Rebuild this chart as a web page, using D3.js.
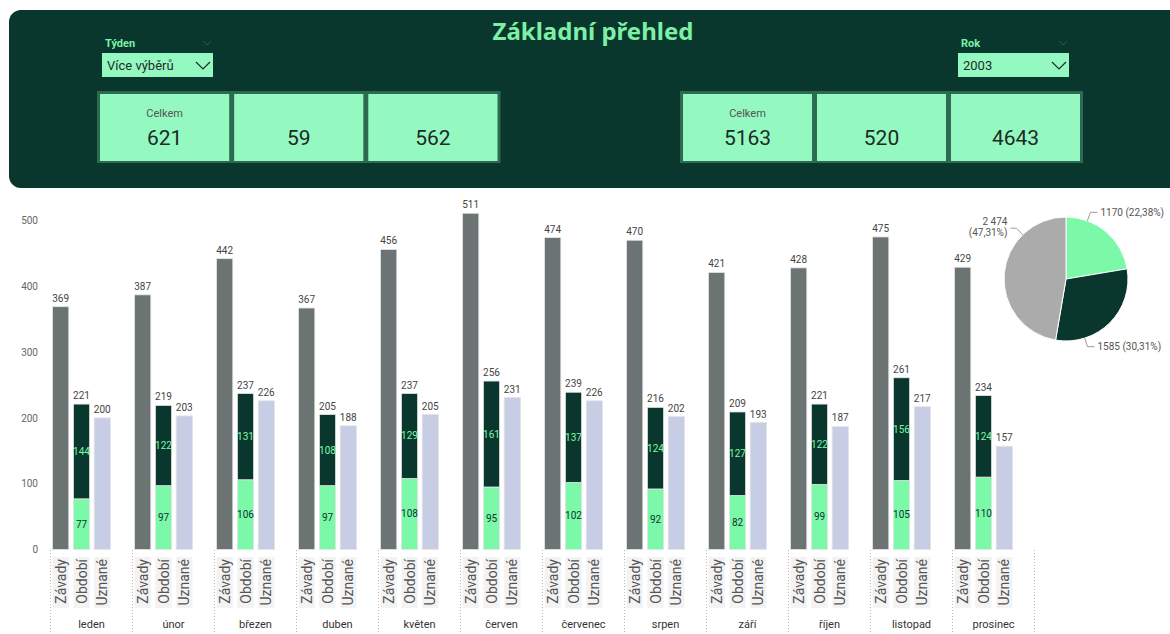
<!DOCTYPE html>
<html>
<head>
<meta charset="utf-8">
<script src="https://cdn.jsdelivr.net/npm/d3@7"></script>
<style>
  body { margin: 0; background: #fff; }
  text { font-family: Roboto, "Noto Sans", sans-serif; }
</style>
</head>
<body>
<div id="chart"></div>
<script>
// data
const months = ["leden", "únor", "březen", "duben", "květen", "červen", "červenec", "srpen", "září", "říjen", "listopad", "prosinec"];
const subCats = ["Závady", "Období", "Uznané"];
const zavady = [369, 387, 442, 367, 456, 511, 474, 470, 421, 428, 475, 429];
const obdobiLow = [77, 97, 106, 97, 108, 95, 102, 92, 82, 99, 105, 110];
const obdobiHigh = [144, 122, 131, 108, 129, 161, 137, 124, 127, 122, 156, 124];
const uznane = [200, 203, 226, 188, 205, 231, 226, 202, 193, 187, 217, 157];
const yTicks = [0, 100, 200, 300, 400, 500];

const cardsWeek = [621, 59, 562];
const cardsYear = [5163, 520, 4643];

const pieValues = [1170, 1585, 2474];
const pieLabels = ["1170 (22,38%)", "1585 (30,31%)", "2 474|(47,31%)"];

const C = {
  header: "#0a372d", mint: "#93f9c0", frame: "#2c6a51", title: "#7df0a6",
  gray: "#6b7472", light: "#7cf9a8", dark: "#0a372d", lav: "#c8cde6", pieGray: "#ababab"
};

const W = 1170, H = 634;
const svg = d3.select("#chart").append("svg").attr("width", W).attr("height", H);

// ---- header panel
svg.append("rect").attr("x", 9).attr("y", 10).attr("width", W + 10).attr("height", 178)
  .attr("rx", 12).attr("fill", C.header);

svg.append("text").attr("x", 593).attr("y", 40).attr("text-anchor", "middle")
  .style("font-family", "'Noto Sans', 'Open Sans', sans-serif")
  .attr("font-size", 24).attr("font-weight", 700).attr("fill", C.title)
  .text("Základní přehled");

function chevron(g, x, y, w, h, color, sw) {
  g.append("path").attr("d", `M${x},${y} L${x + w / 2},${y + h} L${x + w},${y}`)
    .attr("fill", "none").attr("stroke", color).attr("stroke-width", sw);
}

function slicer(x, label, value) {
  const g = svg.append("g");
  g.append("text").attr("x", x + 3).attr("y", 47).attr("font-size", 11).attr("font-weight", 700)
    .attr("fill", C.title).text(label);
  chevron(g, x + 101, 41, 8, 4, "#2f5a4c", 1);
  g.append("rect").attr("x", x).attr("y", 53).attr("width", 111).attr("height", 24).attr("fill", C.mint);
  g.append("text").attr("x", x + 5).attr("y", 70).attr("font-size", 13).attr("fill", "#1f2a26").text(value);
  chevron(g, x + 94, 62, 14, 7, "#1f2a26", 1.2);
}
slicer(102, "Týden", "Více výběrů");
slicer(958, "Rok", "2003");

function cardRow(x0, x1, values) {
  const g = svg.append("g");
  g.append("rect").attr("x", x0 - 3).attr("y", 91).attr("width", x1 - x0 + 6).attr("height", 72).attr("fill", C.frame);
  const cx = d3.scaleBand().domain(d3.range(values.length)).range([x0, x1]).paddingInner(0.037);
  values.forEach((v, i) => {
    g.append("rect").attr("x", cx(i)).attr("y", 94).attr("width", cx.bandwidth()).attr("height", 67).attr("fill", C.mint);
    if (i === 0) {
      g.append("text").attr("x", cx(i) + cx.bandwidth() / 2).attr("y", 117).attr("text-anchor", "middle")
        .attr("font-size", 11).attr("fill", "#555").text("Celkem");
    }
    g.append("text").attr("x", cx(i) + cx.bandwidth() / 2).attr("y", 145).attr("text-anchor", "middle")
      .attr("font-size", 21).attr("fill", "#1d2a26").text(v);
  });
}
cardRow(100, 497.5, cardsWeek);
cardRow(683, 1080, cardsYear);

// ---- clustered bar chart
const y = d3.scaleLinear().domain([0, 500]).range([549.5, 220.5]);
const x0 = d3.scaleBand().domain(months).range([50.5, 1034.5]);
const x1 = d3.scaleBand().domain(subCats).range([0, 62]).paddingInner(0.22).paddingOuter(0.1);

const yAxis = svg.append("g").attr("transform", "translate(38,0)")
  .call(d3.axisLeft(y).tickValues(yTicks).tickSize(0).tickPadding(0));
yAxis.select(".domain").remove();
yAxis.selectAll("text").attr("font-size", 10).attr("fill", "#666")
  .style("font-family", "Roboto, sans-serif");

const groups = svg.selectAll("g.month").data(months).join("g").attr("class", "month")
  .attr("transform", d => `translate(${x0(d)},0)`);

const bw = x1.bandwidth();
function bar(g, sub, lo, hi, fill) {
  g.append("rect").attr("x", x1(sub)).attr("y", y(hi)).attr("width", bw).attr("height", y(lo) - y(hi))
    .attr("fill", fill).attr("stroke", "#e4e4e4").attr("stroke-width", 0.8);
}
function topLabel(g, sub, v) {
  g.append("text").attr("x", x1(sub) + bw / 2).attr("y", y(v) - 5).attr("text-anchor", "middle")
    .attr("font-size", 10).attr("fill", "#444").text(v);
}

groups.each(function (m, i) {
  const g = d3.select(this);
  bar(g, "Závady", 0, zavady[i], C.gray);
  topLabel(g, "Závady", zavady[i]);

  const lo = obdobiLow[i], hi = obdobiHigh[i], tot = lo + hi;
  bar(g, "Období", 0, lo, C.light);
  bar(g, "Období", lo, tot, C.dark);
  topLabel(g, "Období", tot);
  g.append("text").attr("x", x1("Období") + bw / 2).attr("y", (y(0) + y(lo)) / 2).attr("dy", "0.35em")
    .attr("text-anchor", "middle").attr("font-size", 10).attr("fill", C.dark).text(lo);
  g.append("text").attr("x", x1("Období") + bw / 2).attr("y", (y(lo) + y(tot)) / 2).attr("dy", "0.35em")
    .attr("text-anchor", "middle").attr("font-size", 10).attr("fill", C.light).text(hi);

  bar(g, "Uznané", 0, uznane[i], C.lav);
  topLabel(g, "Uznané", uznane[i]);

  // rotated sub-category labels
  subCats.forEach(s => {
    g.append("rect").attr("x", x1(s)).attr("y", 557).attr("width", bw).attr("height", 51).attr("fill", "#f3f3f3");
    g.append("text").attr("transform", `translate(${x1(s) + bw / 2 + 5},559) rotate(-90)`)
      .attr("text-anchor", "end").attr("font-size", 14).attr("fill", "#555").text(s);
  });

  g.append("text").attr("x", x0.bandwidth() / 2).attr("y", 628).attr("text-anchor", "middle")
    .attr("font-size", 11).attr("fill", "#333").text(m);
});

// dotted group separators
svg.selectAll("line.sep").data(months.concat(["end"])).join("line").attr("class", "sep")
  .attr("x1", (d, i) => 50.5 + i * x0.step()).attr("x2", (d, i) => 50.5 + i * x0.step())
  .attr("y1", 550).attr("y2", H)
  .attr("stroke", "#bbb").attr("stroke-dasharray", "1,2");

// ---- pie
const cx = 1066, cy = 279, r = 62;
const pie = d3.pie().sort(null)(pieValues);
const arc = d3.arc().innerRadius(0).outerRadius(r);
const pg = svg.append("g").attr("transform", `translate(${cx},${cy})`);
pg.selectAll("path").data(pie).join("path").attr("d", arc)
  .attr("fill", (d, i) => [C.light, C.dark, C.pieGray][i]).attr("stroke", "#fff").attr("stroke-width", 1);

// Power BI label anchor positions as fraction of each slice
const anchorFrac = [0.25, 0.75, 0.74];
pie.forEach((d, i) => {
  const a = d.startAngle + (d.endAngle - d.startAngle) * anchorFrac[i];
  const p1 = [Math.sin(a) * r, -Math.cos(a) * r];
  const p2 = [Math.sin(a) * (r + 9), -Math.cos(a) * (r + 9)];
  const right = Math.sin(a) > 0;
  const p3 = [p2[0] + (right ? 7 : -6), p2[1]];
  pg.append("polyline").attr("points", [p1, p2, p3].map(p => p.join(",")).join(" "))
    .attr("fill", "none").attr("stroke", "#999").attr("stroke-width", 1);
  const lines = pieLabels[i].split("|");
  const t = pg.append("text").attr("x", p3[0] + (right ? 3 : -3)).attr("y", p2[1])
    .attr("text-anchor", right ? "start" : "end").attr("font-size", 10).attr("fill", "#555");
  lines.forEach((l, k) => {
    t.append("tspan").attr("x", p3[0] + (right ? 3 : -3))
      .attr("dy", k === 0 ? (lines.length > 1 ? "-0.3em" : "0.35em") : "1.05em").text(l);
  });
});
</script>
</body>
</html>
